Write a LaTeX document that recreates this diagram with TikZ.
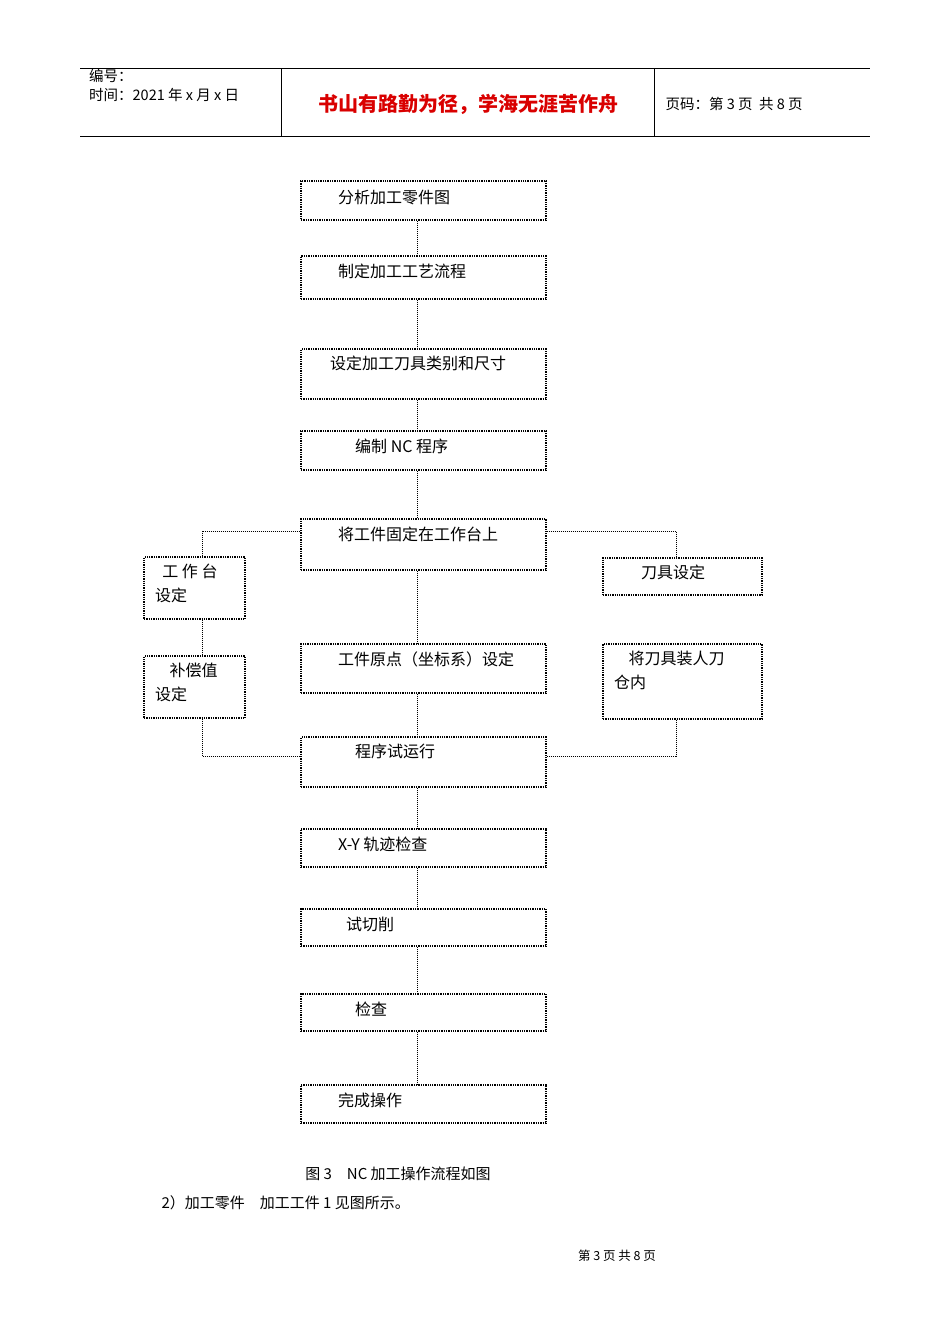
\documentclass[tikz,border=0pt]{standalone}
\usepackage{fontspec}
\setmainfont{Liberation Sans}
\newfontfamily\cjk{Noto Sans CJK SC}
\begin{document}
\begin{tikzpicture}[x=1pt,y=-1pt,
  bx/.style={draw,line width=1.3pt,densely dotted},
  ln/.style={draw,line width=1pt,densely dotted},
  tx/.style={anchor=north west,font=\cjk\fontsize{16}{24}\selectfont,inner sep=0pt,align=left}]
\useasboundingbox (0,0) rectangle (950,1344);
% header
\draw[line width=0.8pt] (80,68)--(870,68) (80,136)--(870,136) (281,68)--(281,136) (654,68)--(654,136);
\node[tx,font=\cjk\fontsize{14.5}{19}\selectfont] (h1) at (89,69) {编号：\\时间：2021 年 x 月 x 日};
\node[font=\cjk\bfseries\fontsize{20}{24}\selectfont,text=red!85!black] (h2) at (468,104) {书山有路勤为径，学海无涯苦作舟};
\node[anchor=west,font=\cjk\fontsize{14.5}{18}\selectfont] (h3) at (662,104) {页码：第 3 页\ \ 共 8 页};
% boxes
\foreach \n/\a/\b/\c/\d in {b1/301/181/546/220,b2/301/256/546/299,b3/301/349/546/399,b4/301/431/546/470,b5/301/519/546/570,l1/144/557/245/619,l2/144/656/245/718,r1/603/558/762/595,r2/603/644/762/719,b6/301/644/546/693,b7/301/737/546/787,b8/301/829/546/867,b9/301/909/546/946,b10/301/994/546/1031,b11/301/1085/546/1123}
  \node[bx,inner sep=0pt,minimum width=\c-\a,minimum height=\d-\b] (\n) at ({(\a+\c)/2},{(\b+\d)/2}) {};
\node[tx] (t1) at (338,190) {分析加工零件图};
\node[tx] (t2) at (338,264) {制定加工工艺流程};
\node[tx] (t3) at (330,356) {设定加工刀具类别和尺寸};
\node[tx] (t4) at (355,439) {编制 NC 程序};
\node[tx] (t5) at (338,527) {将工件固定在工作台上};
\node[tx] (t6) at (155,564) {\ \ 工 作 台\\设定};
\node[tx] (t7) at (155,663) {\ \ \ \ 补偿值\\设定};
\node[tx] (t8) at (641,565) {刀具设定};
\node[tx] (t9) at (614,651) {\ \ \ \ 将刀具装人刀\\仓内};
\node[tx] (t10) at (338,652) {工件原点（坐标系）设定};
\node[tx] (t11) at (355,744) {程序试运行};
\node[tx] (t12) at (338,837) {X-Y 轨迹检查};
\node[tx] (t13) at (346,917) {试切削};
\node[tx] (t14) at (355,1002) {检查};
\node[tx] (t15) at (338,1093) {完成操作};
% connectors
\draw[ln] (b1.south -| 417,0) -- (b2.north -| 417,0);
\draw[ln] (b2.south -| 417,0) -- (b3.north -| 417,0);
\draw[ln] (b3.south -| 417,0) -- (b4.north -| 417,0);
\draw[ln] (b4.south -| 417,0) -- (b5.north -| 417,0);
\draw[ln] (b5.south -| 417,0) -- (b6.north -| 417,0);
\draw[ln] (b6.south -| 417,0) -- (b7.north -| 417,0);
\draw[ln] (b7.south -| 417,0) -- (b8.north -| 417,0);
\draw[ln] (b8.south -| 417,0) -- (b9.north -| 417,0);
\draw[ln] (b9.south -| 417,0) -- (b10.north -| 417,0);
\draw[ln] (b10.south -| 417,0) -- (b11.north -| 417,0);
\draw[ln] (b5.west |- 0,531) -- (202,531) -- (l1.north -| 202,0);
\draw[ln] (l1.south -| 202,0) -- (l2.north -| 202,0);
\draw[ln] (l2.south -| 202,0) -- (202,756) -- (b7.west |- 0,756);
\draw[ln] (b5.east |- 0,531) -- (676,531) -- (r1.north -| 676,0);
\draw[ln] (r2.south -| 676,0) -- (676,756) -- (b7.east |- 0,756);
% captions
\node[font=\cjk\fontsize{15}{18}\selectfont] (c1) at (398,1174) {图 3\quad NC 加工操作流程如图};
\node[anchor=west,font=\cjk\fontsize{15}{18}\selectfont] (c2) at (158,1203) {2）加工零件\quad 加工工件 1 见图所示。};
\node[font=\cjk\fontsize{12.5}{15}\selectfont] (c3) at (617,1256) {第\ 3\ 页\ 共\ 8\ 页};
\end{tikzpicture}
\end{document}
